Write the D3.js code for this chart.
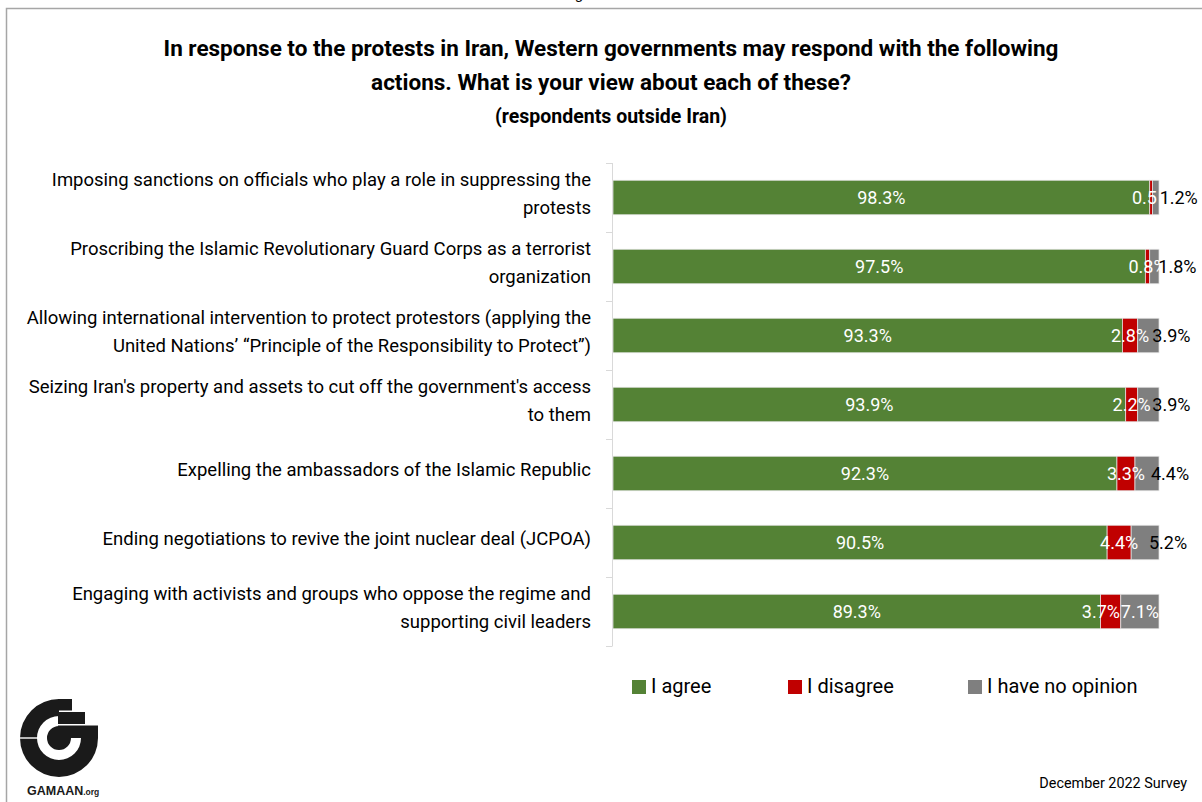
<!DOCTYPE html>
<html>
<head>
<meta charset="utf-8">
<script src="https://cdn.jsdelivr.net/npm/d3@7"></script>
<style>
  html, body { margin: 0; padding: 0; background: #fff; }
  svg { display: block; font-family: Roboto, "Noto Sans", sans-serif; }
</style>
</head>
<body>
<svg id="chart" width="1202" height="802"></svg>
<script>
// Survey items (each label split into its display lines)
const categories = [
  ["Imposing sanctions on officials who play a role in suppressing the", "protests"],
  ["Proscribing the Islamic Revolutionary Guard Corps as a terrorist", "organization"],
  ["Allowing international intervention to protect protestors (applying the", "United Nations\u2019 \u201cPrinciple of the Responsibility to Protect\u201d)"],
  ["Seizing Iran's property and assets to cut off the government's access", "to them"],
  ["Expelling the ambassadors of the Islamic Republic"],
  ["Ending negotiations to revive the joint nuclear deal (JCPOA)"],
  ["Engaging with activists and groups who oppose the regime and", "supporting civil leaders"]
];
const agree     = [98.3, 97.5, 93.3, 93.9, 92.3, 90.5, 89.3];
const disagree  = [0.5, 0.8, 2.8, 2.2, 3.3, 4.4, 3.7];
const noOpinion = [1.2, 1.8, 3.9, 3.9, 4.4, 5.2, 7.1];
const seriesNames = ["I agree", "I disagree", "I have no opinion"];
const seriesColors = ["#548235", "#c00000", "#7f7f7f"];

const svg = d3.select("#chart");

// outer frame
svg.append("rect")
  .attr("x", 6.5).attr("y", 8.5).attr("width", 1220).attr("height", 820)
  .attr("fill", "none").attr("stroke", "#a6a6a6").attr("stroke-width", 1.5);

// descender of the heading above the frame
svg.append("text").attr("x", 579).attr("y", -1).attr("text-anchor", "middle")
  .attr("font-size", 15).attr("fill", "#000").text("g");

// title
const title = svg.append("g").attr("text-anchor", "middle").attr("fill", "#000").attr("font-weight", "bold");
title.append("text").attr("x", 611).attr("y", 56).attr("font-size", 22.5)
  .text("In response to the protests in Iran, Western governments may respond with the following");
title.append("text").attr("x", 611).attr("y", 90).attr("font-size", 22.5)
  .text("actions. What is your view about each of these?");
title.append("text").attr("x", 611).attr("y", 123).attr("font-size", 19.5)
  .text("(respondents outside Iran)");

// data rows
const rows = categories.map((c, i) => ({
  idx: i, lines: c,
  vals: [agree[i], disagree[i], noOpinion[i]]
}));

const x = d3.scaleLinear().domain([0, 100]).range([613, 1159]);
const y = d3.scaleBand().domain(rows.map(r => r.idx)).range([163, 646]).padding(0);
const step = y.step();
const barOff = step * 0.25, barH = step * 0.5;

// axis line with ticks at row boundaries
const axisG = svg.append("g");
axisG.append("line").attr("x1", 612.5).attr("x2", 612.5).attr("y1", y.range()[0]).attr("y2", y.range()[1])
  .attr("stroke", "#d9d9d9").attr("stroke-width", 1);
const tickYs = rows.map(r => y(r.idx)).concat([y.range()[1]]);
axisG.selectAll("line.tick").data(tickYs).join("line").attr("class", "tick")
  .attr("x1", 606).attr("x2", 612.5).attr("y1", d => d + 0.5).attr("y2", d => d + 0.5)
  .attr("stroke", "#d9d9d9").attr("stroke-width", 1);

// category labels
const catG = svg.append("g").attr("text-anchor", "end").attr("fill", "#000").attr("font-size", 18.5);
rows.forEach(r => {
  const cy = y(r.idx) + step / 2 - 3.5;
  const n = r.lines.length;
  r.lines.forEach((ln, j) => {
    catG.append("text").attr("x", 591)
      .attr("y", cy + (j - (n - 1) / 2) * 28)
      .attr("dy", "0.35em").text(ln);
  });
});

// stacked bars
const stacked = rows.map(r => {
  let acc = 0;
  return r.vals.map((v, k) => { const s = { row: r.idx, k, v, x0: acc, x1: acc + v }; acc += v; return s; });
});
const segs = stacked.flat();

svg.append("g").selectAll("rect").data(segs).join("rect")
  .attr("x", d => x(d.x0))
  .attr("y", d => y(d.row) + barOff)
  .attr("width", d => Math.max(0, x(Math.min(d.x1, 100)) - x(d.x0)))
  .attr("height", barH)
  .attr("fill", d => seriesColors[d.k])
  .attr("stroke", "#e4e4e4").attr("stroke-width", 0.75);

// value labels
const labelSize = 18;
const labelW = 38;   // approximate width of a "d.d%" label at this size
const segMid = d => (x(d.x0) + x(Math.min(d.x1, 100))) / 2;
const outside = d => d.k === 2 && d.v < 6;   // small "no opinion" values sit past the bar end
const labelX = d => {
  if (outside(d)) return segMid(d) + 23;
  if (d.k === 1) {
    // keep the "disagree" label clear of an inside "no opinion" label
    const next = stacked[d.row][2];
    if (!outside(next)) {
      const limit = segMid(next) - labelW / 2 - 1;
      return Math.min(segMid(d), limit - labelW / 2);
    }
  }
  return segMid(d);
};

const labels = svg.append("g").attr("font-size", labelSize).attr("text-anchor", "middle")
  .selectAll("text").data(segs).join("text")
  .attr("x", labelX)
  .attr("y", d => y(d.row) + step / 2)
  .attr("dy", "0.35em")
  .attr("fill", d => outside(d) ? "#000" : "#fff");
labels.append("tspan").text(d => d3.format(".1f")(d.v));
// the "%" of a very thin segment's label runs into its neighbour and is not shown
labels.append("tspan").attr("fill-opacity", d => (d.k === 1 && d.v < 0.6) ? 0 : 1).text("%");

// legend
const legX = [632, 788, 968];
const leg = svg.append("g");
seriesNames.forEach((s, i) => {
  leg.append("rect").attr("x", legX[i]).attr("y", 680).attr("width", 14).attr("height", 14)
    .attr("fill", seriesColors[i]);
  leg.append("text").attr("x", legX[i] + 19).attr("y", 686).attr("dy", "0.35em")
    .attr("font-size", 20).attr("fill", "#000").text(s);
});

// footer
svg.append("text").attr("x", 1187).attr("y", 788).attr("text-anchor", "end")
  .attr("font-size", 14.4).attr("fill", "#000").text("December 2022 Survey");

// GAMAAN logo
const logo = svg.append("g").attr("transform", "translate(59,738)").attr("fill", "#1a1a1a");
const arc = d3.arc();
logo.append("path").attr("d", arc({ innerRadius: 22, outerRadius: 39, startAngle: Math.PI / 2, endAngle: 2 * Math.PI }));
logo.append("path").attr("d", arc({ innerRadius: 0, outerRadius: 12, startAngle: Math.PI / 2, endAngle: 2 * Math.PI }));
logo.append("rect").attr("x", -40).attr("y", -0.7).attr("width", 19).attr("height", 1.4).attr("fill", "#fff");
logo.append("rect").attr("x", -1).attr("y", -39).attr("width", 14).attr("height", 11.5);
logo.append("rect").attr("x", -1).attr("y", -26).attr("width", 27).attr("height", 12);
logo.append("rect").attr("x", -1).attr("y", -12.5).attr("width", 40).attr("height", 12.5);
const logoText = svg.append("text").attr("x", 27).attr("y", 795).attr("fill", "#1a1a1a")
  .attr("font-family", "'Liberation Sans', Arial, sans-serif").attr("font-weight", "bold");
logoText.append("tspan").attr("font-size", 12.5).text("GAMAAN");
logoText.append("tspan").attr("font-size", 8.5).text(".org");
</script>
</body>
</html>
